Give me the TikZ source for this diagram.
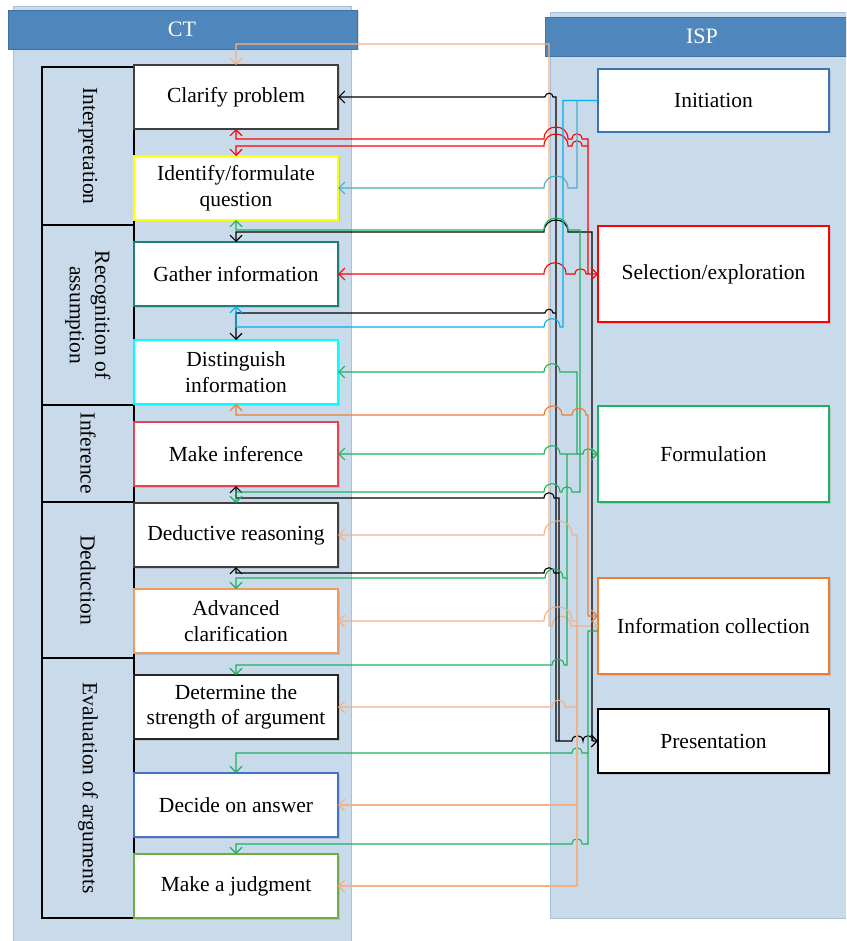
\documentclass[tikz,border=0pt]{standalone}
\usepackage{fontspec}
\setmainfont{Liberation Serif}
\usetikzlibrary{arrows.meta,shadows}
\newcommand{\myfsz}{\fontsize{21.5}{25.5}\selectfont}
\definecolor{panel}{HTML}{C9DAEA}
\definecolor{panelb}{HTML}{A7C0DC}
\definecolor{head}{HTML}{4F87BD}
\definecolor{headb}{HTML}{41719C}
\definecolor{lor}{HTML}{F4B183}
\definecolor{dor}{HTML}{ED7D31}
\definecolor{cyn}{HTML}{00B0F0}
\definecolor{bltwo}{HTML}{4BACC6}
\definecolor{grn}{HTML}{1DB25E}
\definecolor{bxteal}{HTML}{217C7E}
\definecolor{bxred}{HTML}{E8424F}
\definecolor{bxorange}{HTML}{F19A5E}
\definecolor{bxblue}{HTML}{4472C4}
\definecolor{bxgreen}{HTML}{70AD47}
\definecolor{bxyellow}{HTML}{FFFF00}
\definecolor{bxcyan}{HTML}{00FFFF}
\definecolor{initb}{HTML}{3A74AE}
\definecolor{bxgray}{HTML}{3F3F3F}
\begin{document}
\begin{tikzpicture}[x=1pt,y=-1pt,
  box/.style={draw, fill=white, line width=1.2pt, inner sep=2pt, outer sep=0pt,
    align=center, minimum height=64pt, font=\myfsz,
    drop shadow={shadow xshift=1.5pt, shadow yshift=-1.5pt, opacity=0.25, fill=gray}},
  lbox/.style={box, minimum width=204pt},
  rbox/.style={box, minimum width=231pt},
  catbox/.style={draw=black, fill=panel, line width=1.1pt, minimum width=92pt,
    inner sep=0pt, outer sep=0pt, align=center, font=\myfsz},
  cattext/.style={rotate=-90, align=center, font=\myfsz, inner sep=0pt},
  headbar/.style={fill=head, draw=headb, line width=0.8pt,
    drop shadow={shadow xshift=1.5pt, shadow yshift=-1.5pt, opacity=0.25, fill=gray}},
  headtext/.style={text=white, font=\fontsize{22}{26}\selectfont},
  con/.style={line width=1.1pt},
  arr/.style={-{Straight Barb[length=6pt,width=12pt]}},
  dbl/.style={{Straight Barb[length=6pt,width=12pt]}-{Straight Barb[length=6pt,width=12pt]}},
  jp/.style={to path={.. controls ([yshift=#1pt]\tikztostart) and ([yshift=#1pt]\tikztotarget) .. (\tikztotarget)}}
]
\useasboundingbox (0,0) rectangle (846,941);
\clip (0,0) rectangle (846,941);
% panels
\fill[white] (0,0) rectangle (846,941);
\draw[fill=panel, draw=panelb, line width=0.8pt] (13,6) rectangle (351,960);
\draw[fill=panel, draw=panelb, line width=0.8pt] (550,12) rectangle (870,918);
\draw[headbar] (8,10) rectangle (357,49);
\draw[headbar] (545,17) rectangle (870,56);
\node[headtext] (cthead) at (182,29) {CT};
\node[headtext] (isphead) at (702,36) {ISP};
% categories
\node[catbox, minimum height=158pt] (interp) at (88,146) {};
\node[cattext] at (interp.center) {Interpretation};
\node[catbox, minimum height=180pt] (recog) at (88,315) {};
\node[cattext] at (recog.center) {Recognition of\\assumption};
\node[catbox, minimum height=97pt] (infcat) at (88,453.5) {};
\node[cattext] at (infcat.center) {Inference};
\node[catbox, minimum height=156pt] (dedcat) at (88,580) {};
\node[cattext] at (dedcat.center) {Deduction};
\node[catbox, minimum height=260pt] (evalcat) at (88,788) {};
\node[cattext] at (evalcat.center) {Evaluation of arguments};
% CT boxes
\node[lbox, draw=bxgray] (clar) at (236,97) {Clarify problem};
\node[lbox, draw=bxyellow] (ident) at (236,188) {Identify/formulate\\question};
\node[lbox, draw=bxteal] (gath) at (236,274) {Gather information};
\node[lbox, draw=bxcyan] (dist) at (236,372) {Distinguish\\information};
\node[lbox, draw=bxred] (infer) at (236,454) {Make inference};
\node[lbox, draw=bxgray] (deduct) at (236,535) {Deductive reasoning};
\node[lbox, draw=bxorange] (adv) at (236,621) {Advanced\\clarification};
\node[lbox, draw=black!85] (deter) at (236,707) {Determine the\\strength of argument};
\node[lbox, draw=bxblue] (decide) at (236,805) {Decide on answer};
\node[lbox, draw=bxgreen] (judg) at (236,886) {Make a judgment};
% ISP boxes
\node[rbox, draw=initb, minimum height=63pt] (init) at (713.5,100.5) {Initiation};
\node[rbox, draw=red, minimum height=96pt] (sel) at (713.5,274) {Selection/exploration};
\node[rbox, draw=grn, minimum height=96pt] (form) at (713.5,454) {Formulation};
\node[rbox, draw=dor, minimum height=96pt] (info) at (713.5,626) {Information collection};
\node[rbox, draw=black, minimum height=64pt] (pres) at (713.5,741) {Presentation};
% ---- connectors ----
% light orange: information collection -> clarify problem (top)
\draw[con,lor,dbl] (info.west) -- (571,626) to[jp=13] (552,626) -- (549,626) -- (549,44) -- (236,44) -- (clar.north);
% black: presentation
\draw[con,black,dbl] (pres.west) -- (593,741) to[jp=7] (583,741) to[jp=7] (572,741) -- (556,741) -- (556,97) -- (553,97) to[jp=5] (545,97) -- (clar.east);
\draw[con,black,arr] (559,741) -- (559,498) -- (554,498) to[jp=7] (544,498) -- (236,498) -- (infer.south);
\draw[con,black,arr] (559,573) -- (554,573) to[jp=7] (544,573) -- (236,573) -- (deduct.south);
\draw[con,black,arr] (556,313) -- (553,313) to[jp=5] (545,313) -- (236,313) -- (dist.north);
\draw[con,black,arr] (592,741) -- (592,232) -- (568,232) to[jp=16] (544,232) -- (236,232) -- (gath.north);
% red: selection/exploration
\draw[con,red,dbl] (sel.west) -- (586,274) to[jp=7] (575,274) -- (566,274) to[jp=15] (544,274) -- (gath.east);
\draw[con,red,arr] (588,274) -- (588,139) -- (582,139) to[jp=7] (572,139) -- (568,139) to[jp=16] (544,139) -- (236,139) -- (clar.south);
\draw[con,red,arr] (588,146) -- (582,146) to[jp=7] (572,146) -- (568,146) to[jp=16] (544,146) -- (236,146) -- (ident.north);
% blue: initiation
\draw[con,cyn,arr] (init.west) -| (563,327) -- (560,327) to[jp=11] (544,327) -- (236,327) -- (gath.south);
\draw[con,bltwo,arr] (577,100.5) -- (577,188) -- (568,188) to[jp=16] (544,188) -- (ident.east);
% green: formulation
\draw[con,grn,dbl] (form.west) -- (593,454) to[jp=7] (583,454) -- (560,454) to[jp=11] (544,454) -- (infer.east);
\draw[con,grn,arr] (580,454) -- (580,230) -- (568,230) to[jp=16] (544,230) -- (236,230) -- (ident.south);
\draw[con,grn,arr] (580,454) -- (580,492) -- (572,492) to[jp=7] (562,492) -- (560,492) to[jp=11] (544,492) -- (236,492) -- (deduct.north);
\draw[con,grn,arr] (577,454) -- (577,372) -- (560,372) to[jp=11] (544,372) -- (dist.east);
\draw[con,grn,arr] (567,454) -- (567,578) -- (563,578) to[jp=12] (545,578) -- (236,578) -- (adv.north);
\draw[con,grn,arr] (567,578) -- (567,665) -- (564,665) to[jp=8] (552,665) -- (236,665) -- (deter.north);
\draw[con,grn,arr] ([yshift=-5pt]info.west) -- (588,631) -- (588,753) -- (582,753) to[jp=7] (572,753) -- (236,753) -- (decide.north);
\draw[con,grn,arr] (588,753) -- (588,844) -- (582,844) to[jp=7] (572,844) -- (236,844) -- (judg.north);
% dark orange: distinguish information
\draw[con,dor,dbl] ([yshift=10pt]info.west) -- (588,616) -- (588,415) -- (586,415) to[jp=9] (572,415) -- (562,415) to[jp=12] (544,415) -- (236,415) -- (dist.south);
% light orange: information collection -> evaluation boxes
\draw[con,lor,arr] (577,626) -- (577,535) -- (572,535) to[jp=19] (544,535) -- (deduct.east);
\draw[con,lor,arr] (577,626) -- (577,886) -- (judg.east);
\draw[con,lor,arr] (577,621) -- (572,621) to[jp=19] (544,621) -- (adv.east);
\draw[con,lor,arr] (577,707) -- (565,707) to[jp=9] (552,707) -- (deter.east);
\draw[con,lor,arr] (577,805) -- (decide.east);
\end{tikzpicture}
\end{document}
